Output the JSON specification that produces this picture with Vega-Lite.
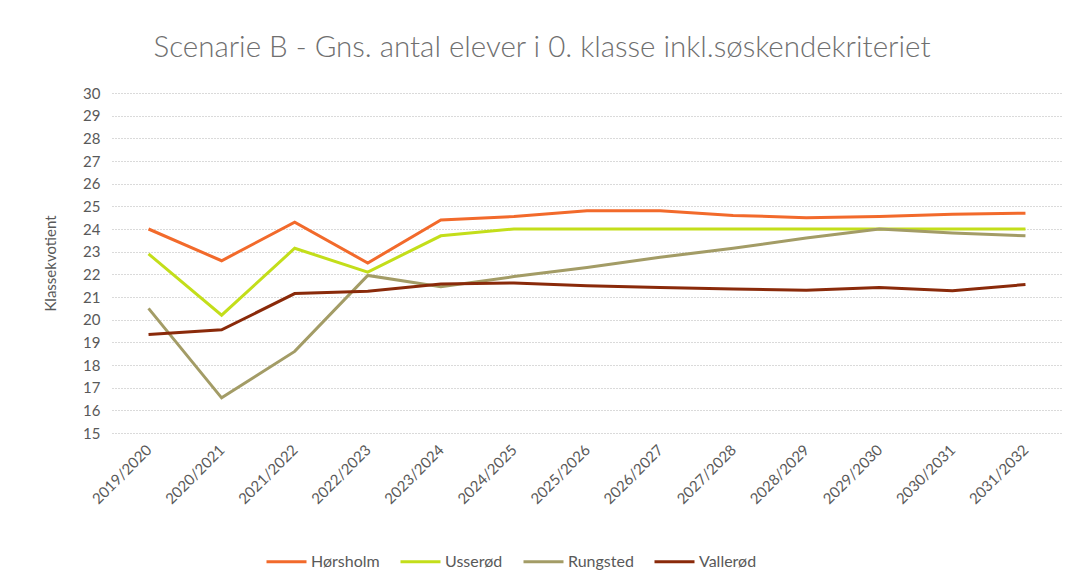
{
  "$schema": "https://vega.github.io/schema/vega-lite/v6.json",
  "width": 950,
  "height": 340,
  "autosize": {"type": "none"},
  "padding": {"left": 112, "top": 93, "right": 14, "bottom": 154},
  "background": "white",
  "title": {
    "text": "Scenarie B - Gns. antal elever i 0. klasse inkl.søskendekriteriet",
    "font": "Lato",
    "fontSize": 29.5,
    "fontWeight": 300,
    "color": "#6f6f6f",
    "anchor": "middle",
    "dx": -45,
    "offset": 23
  },
  "data": {
    "values": [
      {"aar": "2019/2020", "skole": "Hørsholm", "v": 24.0},
      {"aar": "2020/2021", "skole": "Hørsholm", "v": 22.6},
      {"aar": "2021/2022", "skole": "Hørsholm", "v": 24.3},
      {"aar": "2022/2023", "skole": "Hørsholm", "v": 22.5},
      {"aar": "2023/2024", "skole": "Hørsholm", "v": 24.4},
      {"aar": "2024/2025", "skole": "Hørsholm", "v": 24.55},
      {"aar": "2025/2026", "skole": "Hørsholm", "v": 24.8},
      {"aar": "2026/2027", "skole": "Hørsholm", "v": 24.8},
      {"aar": "2027/2028", "skole": "Hørsholm", "v": 24.6},
      {"aar": "2028/2029", "skole": "Hørsholm", "v": 24.5},
      {"aar": "2029/2030", "skole": "Hørsholm", "v": 24.55},
      {"aar": "2030/2031", "skole": "Hørsholm", "v": 24.65},
      {"aar": "2031/2032", "skole": "Hørsholm", "v": 24.7},
      {"aar": "2019/2020", "skole": "Usserød", "v": 22.9},
      {"aar": "2020/2021", "skole": "Usserød", "v": 20.2},
      {"aar": "2021/2022", "skole": "Usserød", "v": 23.15},
      {"aar": "2022/2023", "skole": "Usserød", "v": 22.1},
      {"aar": "2023/2024", "skole": "Usserød", "v": 23.7},
      {"aar": "2024/2025", "skole": "Usserød", "v": 24.0},
      {"aar": "2025/2026", "skole": "Usserød", "v": 24.0},
      {"aar": "2026/2027", "skole": "Usserød", "v": 24.0},
      {"aar": "2027/2028", "skole": "Usserød", "v": 24.0},
      {"aar": "2028/2029", "skole": "Usserød", "v": 24.0},
      {"aar": "2029/2030", "skole": "Usserød", "v": 24.0},
      {"aar": "2030/2031", "skole": "Usserød", "v": 24.0},
      {"aar": "2031/2032", "skole": "Usserød", "v": 24.0},
      {"aar": "2019/2020", "skole": "Rungsted", "v": 20.5},
      {"aar": "2020/2021", "skole": "Rungsted", "v": 16.55},
      {"aar": "2021/2022", "skole": "Rungsted", "v": 18.6},
      {"aar": "2022/2023", "skole": "Rungsted", "v": 21.95},
      {"aar": "2023/2024", "skole": "Rungsted", "v": 21.45},
      {"aar": "2024/2025", "skole": "Rungsted", "v": 21.9},
      {"aar": "2025/2026", "skole": "Rungsted", "v": 22.3},
      {"aar": "2026/2027", "skole": "Rungsted", "v": 22.75},
      {"aar": "2027/2028", "skole": "Rungsted", "v": 23.15},
      {"aar": "2028/2029", "skole": "Rungsted", "v": 23.6},
      {"aar": "2029/2030", "skole": "Rungsted", "v": 24.0},
      {"aar": "2030/2031", "skole": "Rungsted", "v": 23.82},
      {"aar": "2031/2032", "skole": "Rungsted", "v": 23.7},
      {"aar": "2019/2020", "skole": "Vallerød", "v": 19.35},
      {"aar": "2020/2021", "skole": "Vallerød", "v": 19.55},
      {"aar": "2021/2022", "skole": "Vallerød", "v": 21.15},
      {"aar": "2022/2023", "skole": "Vallerød", "v": 21.25},
      {"aar": "2023/2024", "skole": "Vallerød", "v": 21.57},
      {"aar": "2024/2025", "skole": "Vallerød", "v": 21.62},
      {"aar": "2025/2026", "skole": "Vallerød", "v": 21.5},
      {"aar": "2026/2027", "skole": "Vallerød", "v": 21.42},
      {"aar": "2027/2028", "skole": "Vallerød", "v": 21.35},
      {"aar": "2028/2029", "skole": "Vallerød", "v": 21.3},
      {"aar": "2029/2030", "skole": "Vallerød", "v": 21.42},
      {"aar": "2030/2031", "skole": "Vallerød", "v": 21.28},
      {"aar": "2031/2032", "skole": "Vallerød", "v": 21.55}
    ]
  },
  "mark": {"type": "line", "strokeWidth": 3, "strokeJoin": "miter"},
  "encoding": {
    "x": {
      "field": "aar",
      "type": "ordinal",
      "sort": null,
      "scale": {"type": "point", "padding": 0.5},
      "axis": {
        "title": null,
        "labelAngle": -45,
        "labelAlign": "right",
        "labelBaseline": "middle",
        "labelFont": "Lato",
        "labelFontSize": 15,
        "labelColor": "#595959",
        "labelPadding": 14,
        "ticks": false,
        "domain": false,
        "grid": false
      }
    },
    "y": {
      "field": "v",
      "type": "quantitative",
      "scale": {"domain": [15, 30], "nice": false, "zero": false},
      "axis": {
        "title": "Klassekvotient",
        "titleFont": "Lato",
        "titleFontSize": 15,
        "titleFontWeight": "normal",
        "titleColor": "#595959",
        "titlePadding": 24,
        "values": [15,16,17,18,19,20,21,22,23,24,25,26,27,28,29,30],
        "labelFont": "Lato",
        "labelFontSize": 15,
        "labelColor": "#595959",
        "labelPadding": 12,
        "ticks": false,
        "domain": false,
        "grid": true,
        "gridColor": "#b5b5b5",
        "gridDash": [1, 2],
        "gridWidth": 1
      }
    },
    "color": {
      "field": "skole",
      "type": "nominal",
      "sort": ["Hørsholm", "Usserød", "Rungsted", "Vallerød"],
      "scale": {
        "domain": ["Hørsholm", "Usserød", "Rungsted", "Vallerød"],
        "range": ["#F26A2B", "#C3DE1A", "#A39C66", "#8A2A0A"]
      },
      "legend": {
        "title": null,
        "orient": "none",
        "direction": "horizontal",
        "legendX": 153,
        "legendY": 447,
        "symbolType": "stroke",
        "symbolSize": 1600,
        "symbolStrokeWidth": 3,
        "labelFont": "Lato",
        "labelFontSize": 16,
        "labelColor": "#595959",
        "labelOffset": 3,
        "columnPadding": 14
      }
    }
  },
  "config": {"view": {"stroke": null}}
}
